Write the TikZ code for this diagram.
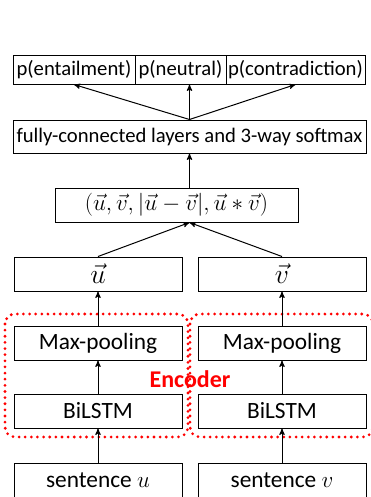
\documentclass[tikz,border=0pt]{standalone}
\usepackage{fontspec}
\setmainfont{Carlito}
\usepackage{amsmath}
\usepackage{tikz}
\usetikzlibrary{arrows}

\begin{document}
\begin{tikzpicture}[x=0.75pt,y=-0.75pt,>=stealth',line width=0.75pt,
  box node/.style={draw,inner sep=0pt,minimum height=25.5pt,font=\fontsize{17.5}{20}\selectfont},
  prob node/.style={draw,inner sep=0pt,minimum height=21.75pt,font=\fontsize{15.5}{18}\selectfont},
  half node/.style={box node,minimum width=126pt},
  vec node/.style={half node,font=\fontsize{20}{22}\selectfont},
  enc box/.style={draw=red,line width=2.3pt,line cap=round,dash pattern=on 0pt off 4.6pt,rounded corners=7.5pt}]
  \useasboundingbox (0,0) rectangle (371,497);
  \clip (0,0) rectangle (371,497);

  % output probabilities
  \node[prob node,minimum width=91.5pt]   (ent) at (74,69.5)    {p(entailment)};
  \node[prob node,minimum width=68.25pt]  (neu) at (180.5,69.5) {p(neutral)};
  \node[prob node,minimum width=104.25pt] (con) at (295.5,69.5) {p(contradiction)};

  \node[prob node,minimum width=264.75pt,minimum height=24.75pt] (fc) at (189.5,136.5)
    {fully-connected layers and 3-way softmax};
  \node[box node,minimum width=182.25pt,font=\fontsize{19}{22}\selectfont] (feat) at (176.5,205)
    {$(\vec{u},\vec{v},|\vec{u}-\vec{v}|,\vec{u}*\vec{v})$};

  % the two encoders
  \node[vec node]  (u)    at (98,274)  {$\vec{u}$};
  \node[vec node]  (v)    at (282,274) {$\vec{v}$};
  \node[half node] (maxu) at (98,343)  {Max-pooling};
  \node[half node] (maxv) at (282,343) {Max-pooling};
  \node[half node] (bilu) at (98,411)  {BiLSTM};
  \node[half node] (bilv) at (282,411) {BiLSTM};
  \node[half node] (senu) at (98,480)  {sentence $u$};
  \node[half node] (senv) at (282,480) {sentence $v$};

  \draw[enc box] (5,314) rectangle (188,437);
  \draw[enc box] (190,314) rectangle (373,437);
  \node[text=red,font=\fontsize{18}{20}\selectfont\bfseries] (enc) at (190,379) {Encoder};

  \path[->]
    (fc.north) edge (ent.south)
    (fc.north) edge (neu.south -| fc.north)
    (fc.north) edge (con.south)
    (feat.north -| fc.south) edge (fc.south)
    (u.north) edge (feat.south -| fc.south)
    (v.north) edge (feat.south -| fc.south)
    (maxu) edge (u)
    (maxv) edge (v)
    (bilu) edge (maxu)
    (bilv) edge (maxv)
    (senu) edge (bilu)
    (senv) edge (bilv);
\end{tikzpicture}
\end{document}
